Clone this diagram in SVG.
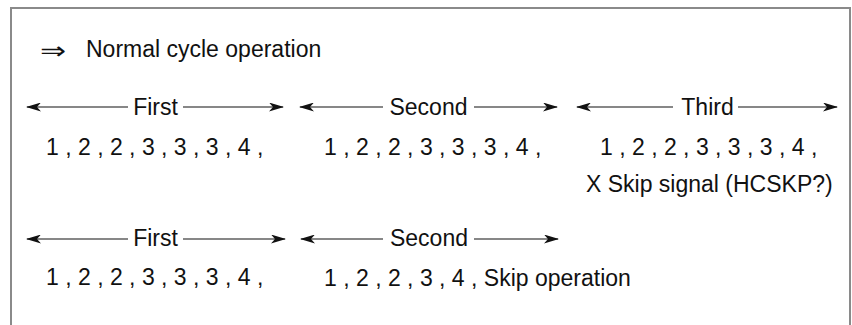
<svg xmlns="http://www.w3.org/2000/svg" width="852" height="325" viewBox="0 0 852 325">
<style>
  .t { font-family: "Liberation Sans", Arial, Helvetica, sans-serif; font-size: 23px; fill: #111; }
  .sym { font-family: "DejaVu Sans", "Liberation Sans", sans-serif; font-size: 24px; fill: #111; }
  .ln { stroke: #111; stroke-width: 1.2; fill: none; }
  .frame { stroke: #8a8a8a; stroke-width: 2; fill: none; }
</style>
<defs>
  <marker id="ah" viewBox="0 0 15 9" refX="14" refY="4.5" markerWidth="15" markerHeight="9" markerUnits="userSpaceOnUse" orient="auto-start-reverse">
    <path d="M0,0 L15,4.5 L0,9 L4,4.5 z" fill="#111"/>
  </marker>
</defs>
<rect x="0" y="0" width="852" height="325" fill="#fff"/>
<path class="frame" d="M11,325 V8 H850 V325"/>

<g id="title">
  <text class="sym" transform="translate(40,59) scale(1.3,1)">⇒</text>
  <text class="t" x="86" y="57">Normal cycle operation</text>
</g>

<g id="connectors">
  <line class="ln" x1="128" y1="107" x2="27" y2="107" marker-end="url(#ah)"/>
  <line class="ln" x1="183" y1="107" x2="283" y2="107" marker-end="url(#ah)"/>
  <line class="ln" x1="383" y1="107" x2="300" y2="107" marker-end="url(#ah)"/>
  <line class="ln" x1="474" y1="107" x2="557" y2="107" marker-end="url(#ah)"/>
  <line class="ln" x1="673" y1="107" x2="577" y2="107" marker-end="url(#ah)"/>
  <line class="ln" x1="738" y1="107" x2="837" y2="107" marker-end="url(#ah)"/>
  <line class="ln" x1="128" y1="239" x2="27" y2="239" marker-end="url(#ah)"/>
  <line class="ln" x1="183" y1="239" x2="285" y2="239" marker-end="url(#ah)"/>
  <line class="ln" x1="383" y1="239" x2="301" y2="239" marker-end="url(#ah)"/>
  <line class="ln" x1="474" y1="239" x2="558" y2="239" marker-end="url(#ah)"/>
</g>

<g id="normal-first">
  <text class="t" x="155.5" y="115" text-anchor="middle">First</text>
  <text class="t" x="46" y="155">1 , 2 , 2 , 3 , 3 , 3 , 4 ,</text>
</g>
<g id="normal-second">
  <text class="t" x="428.5" y="115" text-anchor="middle">Second</text>
  <text class="t" x="324" y="155">1 , 2 , 2 , 3 , 3 , 3 , 4 ,</text>
</g>
<g id="normal-third">
  <text class="t" x="707.5" y="115" text-anchor="middle">Third</text>
  <text class="t" x="600" y="155">1 , 2 , 2 , 3 , 3 , 3 , 4 ,</text>
  <text class="t" x="586" y="192">X Skip signal (HCSKP?)</text>
</g>
<g id="skip-first">
  <text class="t" x="155.5" y="246" text-anchor="middle">First</text>
  <text class="t" x="46" y="285">1 , 2 , 2 , 3 , 3 , 3 , 4 ,</text>
</g>
<g id="skip-second">
  <text class="t" x="429" y="246" text-anchor="middle">Second</text>
  <text class="t" x="324" y="286">1 , 2 , 2 , 3 , 4 , Skip operation</text>
</g>
</svg>
